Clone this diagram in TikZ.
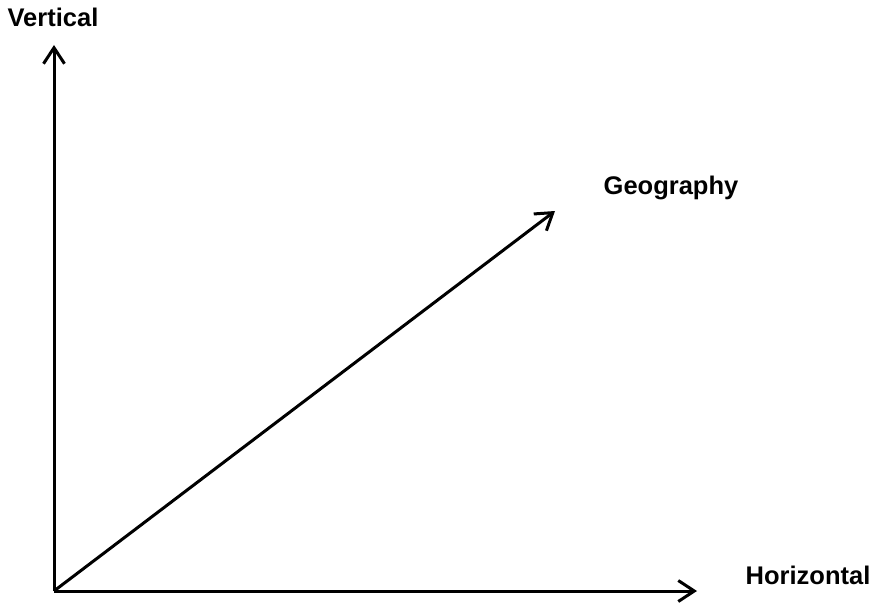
\documentclass[tikz,border=0pt]{standalone}
\usepackage{fontspec}
\setmainfont{Liberation Sans}
\usepackage{tikz}
\usetikzlibrary{positioning, arrows.meta}

\tikzset{
  axis/.style={line width=3pt, -{Straight Barb[length=16pt,width=21pt,line width=3pt]}},
  axisLabel/.style={font=\bfseries\fontsize{25.5}{30}\selectfont, inner sep=0pt, anchor=base}
}

\begin{document}
\begin{tikzpicture}[x=1pt, y=-1pt]
  \useasboundingbox (0,0) rectangle (875,604);
  % origin and arrow ends
  \coordinate (origin) at (54,591);
  \coordinate (vertTip) at (54,45);
  \coordinate (horizTip) at (697,591);
  \coordinate (geoTip) at (555,211);
  % labels
  \node[axisLabel] (vertLabel) at (53,27) {Vertical};
  \node[axisLabel] (geoLabel) at (671,195) {Geography};
  \node[axisLabel] (horizLabel) at (808,584) {Horizontal};
  % axes
  \draw[axis] (origin) -- (vertTip);
  \draw[axis] (origin) -- (horizTip);
  \draw[axis] (origin) -- (geoTip);
\end{tikzpicture}
\end{document}
